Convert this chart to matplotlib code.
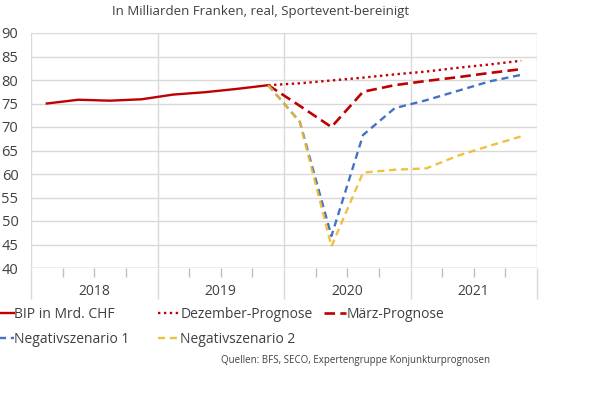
import matplotlib
matplotlib.use("Agg")
import matplotlib.pyplot as plt
from matplotlib.transforms import blended_transform_factory
import numpy as np

plt.rcParams['font.family'] = ['Open Sans', 'DejaVu Sans']

years = ["2018", "2019", "2020", "2021"]
quarters = list(range(16))  # 2018Q1 .. 2021Q4

bip = [75.0, 75.8, 75.6, 75.9, 76.9, 77.4, 78.1, 78.9]
dezember = [78.9, 79.3, 79.9, 80.5, 81.2, 81.8, 82.6, 83.3, 84.1]
maerz = [78.9, 74.5, 70.0, 77.5, 78.9, 79.8, 80.6, 81.5, 82.3]
neg1 = [78.9, 71.1, 46.8, 68.3, 74.0, 75.7, 77.7, 79.7, 81.1]
neg2 = [78.9, 71.1, 44.6, 60.3, 60.9, 61.2, 63.9, 66.0, 68.0]

title = "In Milliarden Franken, real, Sportevent-bereinigt"
source = "Quellen: BFS, SECO, Expertengruppe Konjunkturprognosen"

fig = plt.figure(figsize=(6.0, 3.95), dpi=100)
ax = fig.add_axes([31/600, 1-268/395, (537-31)/600, (268-33)/395])

red = "#c00000"
blue = "#4472c4"
yellow = "#ecbc2a"
grid = "#d9d9d9"
txt = "#404040"

x_hist = quarters[:8]
x_fc = quarters[7:]

l_bip, = ax.plot(x_hist, bip, color=red, lw=1.7, label="BIP in Mrd. CHF")
l_dez, = ax.plot(x_fc, dezember, color=red, lw=1.7, ls=(0, (1, 1.5)), label="Dezember-Prognose")
l_mar, = ax.plot(x_fc, maerz, color=red, lw=1.9, ls=(0, (4, 2)), label="März-Prognose")
l_n1, = ax.plot(x_fc, neg1, color=blue, lw=1.7, ls=(0, (3, 2)), label="Negativszenario 1")
l_n2, = ax.plot(x_fc, neg2, color=yellow, lw=1.7, ls=(0, (3, 2)), label="Negativszenario 2", alpha=0.9)

ax.set_xlim(-0.5, 15.5)
ax.set_ylim(40, 90)
ax.set_yticks(np.arange(40, 91, 5))
ax.yaxis.grid(True, color=grid, lw=1)
for s in ax.spines.values():
    s.set_visible(False)
ax.tick_params(axis='y', length=0, pad=9, labelsize=10.5, labelcolor=txt)

# x axis: year boundaries as major ticks, quarter boundaries as minor ticks
bounds = [-0.5, 3.5, 7.5, 11.5, 15.5]
ax.set_xticks(bounds)
ax.set_xticklabels([""] * len(bounds))
ax.set_xticks([b + q for b in bounds[:-1] for q in (1, 2, 3)], minor=True)
ax.tick_params(axis='x', which='major', length=22, width=1, color=grid)
ax.tick_params(axis='x', which='minor', length=6.5, width=1, color="#bfbfbf")
ax.xaxis.grid(True, which='major', color=grid, lw=1)
ax.axhline(40, color="#bfbfbf", lw=1, zorder=0.5)

trans = blended_transform_factory(ax.transData, ax.transAxes)
for i, y in enumerate(years):
    ax.text(i * 4 + 1.5, -0.1, y, transform=trans, ha='center', va='center',
            fontsize=10, color=txt)

fig.text(261/600, 1-11/395, title, ha='center', va='center', fontsize=9.5, color=txt)
fig.text(490/600, 1-361/395, source, ha='right', va='center', fontsize=7, color=txt)

common = dict(loc='upper left', frameon=False, fontsize=10, handlelength=1.55,
              handletextpad=0.05, borderpad=0, borderaxespad=0, labelspacing=0.7,
              labelcolor=txt)
top = 1 - 307/395
leg1 = fig.legend(handles=[l_bip, l_n1], bbox_to_anchor=(-8/600, top), **common)
leg2 = fig.legend(handles=[l_dez, l_n2], bbox_to_anchor=(158/600, top), **common)
leg3 = fig.legend(handles=[l_mar], bbox_to_anchor=(324/600, top), **common)

fig.savefig("out.png", dpi=100)
